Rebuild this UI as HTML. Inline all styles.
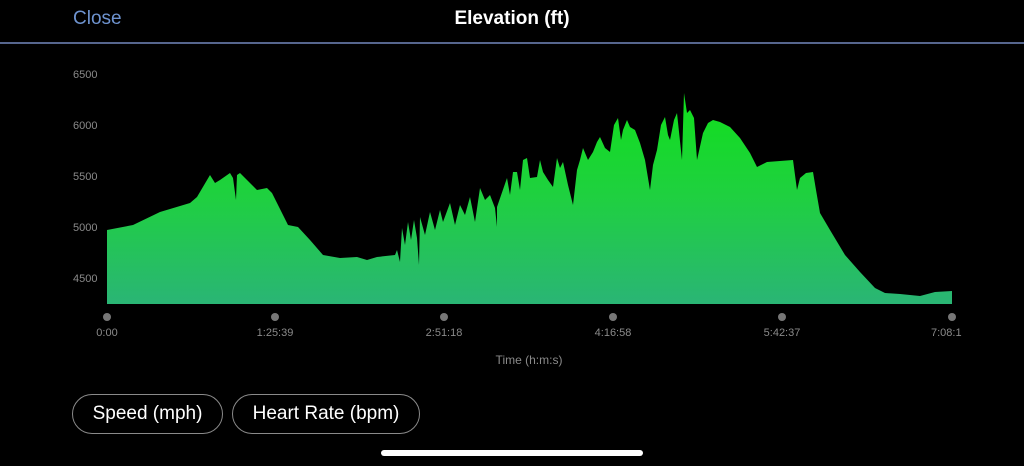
<!DOCTYPE html>
<html><head><style>
body{margin:0;width:1024px;height:466px;background:#000;overflow:hidden;font-family:"Liberation Sans",sans-serif;position:relative}
.t{position:absolute;color:#fff}
.pill{position:absolute;border:1px solid #8a8a8a;border-radius:20px;color:#fff;font-size:19px;display:flex;align-items:center;justify-content:center;box-sizing:border-box;height:40px;top:394px}
.lab{position:absolute;color:#8a8a8a;font-size:11px;transform:translateX(-50%)}
.dot{position:absolute;width:8px;height:8px;border-radius:50%;background:#777;top:313px;margin-left:-4px}
.yl{position:absolute;left:73px;color:#8a8a8a;font-size:11px}
</style></head><body>
<div class="t" style="left:73px;top:8px;font-size:19px;color:#6e93cf">Close</div>
<div class="t" style="left:0;width:1024px;text-align:center;top:8px;font-size:19px;font-weight:bold;">Elevation (ft)</div>
<div style="position:absolute;left:0;top:42px;width:1024px;height:2px;background:#56668e"></div>
<div class="yl" style="top:69px">6500</div>
<div class="yl" style="top:120px">6000</div>
<div class="yl" style="top:171px">5500</div>
<div class="yl" style="top:222px">5000</div>
<div class="yl" style="top:273px">4500</div>
<svg style="position:absolute;left:0;top:0" width="1024" height="466">
<defs><linearGradient id="g" x1="0" y1="90" x2="0" y2="304" gradientUnits="userSpaceOnUse"><stop offset="0" stop-color="#10e01a"/><stop offset="0.5" stop-color="#1fd040"/><stop offset="1" stop-color="#2ab575"/></linearGradient></defs>
<polygon fill="url(#g)" points="107,304 107,230 133,225 160,212 190,203 197,197 210,175 215,183 220,180 230,173 233,178 236,200 237,175 240,173 257,190 267,188 272,193 288,225 298,227 310,240 323,255 340,258 357,257 367,260 377,257 395,255 397,250 400,262 402,228 405,245 408,222 411,240 414,220 417,238 419,265 420,217 425,235 430,212 435,230 440,210 443,222 450,203 455,225 460,205 465,215 470,197 475,222 480,188 485,200 490,195 495,208 497,227 497,207 507,178 510,195 513,172 517,172 520,190 523,160 527,158 530,178 537,177 540,160 543,172 548,180 553,187 557,158 560,168 563,162 568,185 573,205 577,170 580,160 583,148 588,160 593,152 597,142 600,137 605,148 610,152 614,125 618,118 621,140 623,130 627,120 630,127 635,130 640,143 645,160 650,190 653,165 657,150 661,125 665,117 668,135 670,140 674,120 677,113 682,160 684,93 687,113 690,110 694,118 697,160 703,133 708,123 713,120 720,122 730,127 740,138 750,153 757,167 767,162 780,161 793,160 797,190 800,178 806,173 813,172 816,190 820,213 830,230 845,255 860,272 875,288 885,293 900,294 920,296 935,292 952,291 952,304"/>
</svg>
<div class="dot" style="left:107px"></div><div class="dot" style="left:275px"></div><div class="dot" style="left:444px"></div><div class="dot" style="left:613px"></div><div class="dot" style="left:782px"></div><div class="dot" style="left:952px"></div>
<div class="lab" style="left:107px;top:327px">0:00</div>
<div class="lab" style="left:275px;top:327px">1:25:39</div>
<div class="lab" style="left:444px;top:327px">2:51:18</div>
<div class="lab" style="left:613px;top:327px">4:16:58</div>
<div class="lab" style="left:782px;top:327px">5:42:37</div>
<div class="lab" style="left:952px;top:327px;transform:none;margin-left:-21px">7:08:1</div>
<div class="lab" style="left:529px;top:353px;font-size:12px">Time (h:m:s)</div>
<div class="pill" style="left:72px;width:151px">Speed (mph)</div>
<div class="pill" style="left:232px;width:188px">Heart Rate (bpm)</div>
<div style="position:absolute;left:381px;top:450px;width:262px;height:6px;border-radius:3px;background:#fff"></div>
</body></html>
